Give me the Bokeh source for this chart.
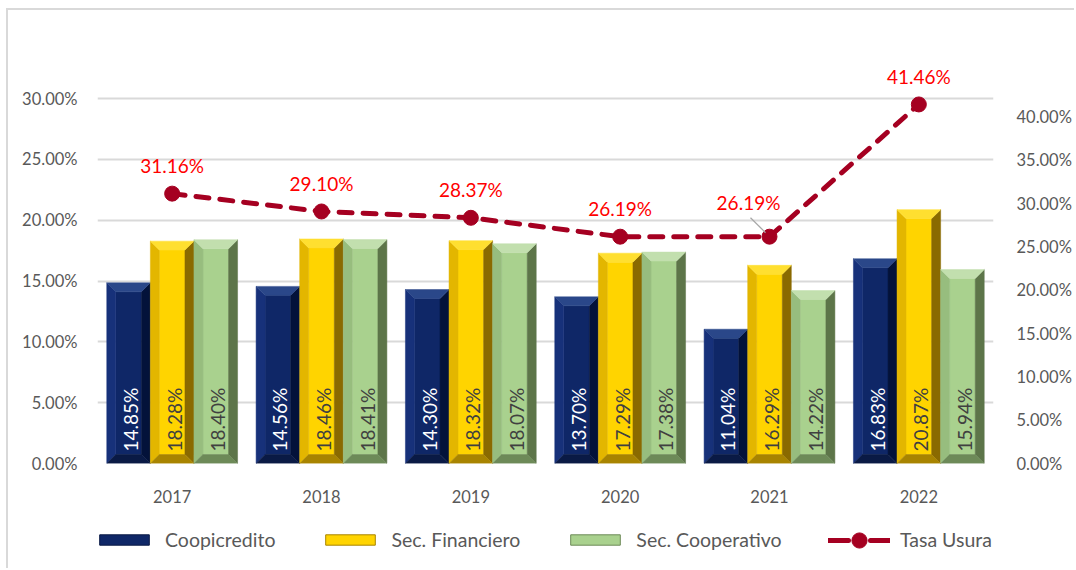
import math
from bokeh.plotting import figure
from bokeh.layouts import column
from bokeh.models import (Range1d, LinearAxis, FixedTicker, NumeralTickFormatter,
                          Legend, LegendItem, ColumnDataSource)
from bokeh.core.properties import value
from bokeh.embed import file_html
from bokeh.resources import INLINE

# ---------------- data ----------------
years = ["2017", "2018", "2019", "2020", "2021", "2022"]
coopicredito = [0.1485, 0.1456, 0.1430, 0.1370, 0.1104, 0.1683]
sec_financiero = [0.1828, 0.1846, 0.1832, 0.1729, 0.1629, 0.2087]
sec_cooperativo = [0.1840, 0.1841, 0.1807, 0.1738, 0.1422, 0.1594]
tasa_usura = [0.3116, 0.2910, 0.2837, 0.2619, 0.2619, 0.4146]
left_ticks = [0.0, 0.05, 0.10, 0.15, 0.20, 0.25, 0.30]
right_ticks = [0.0, 0.05, 0.10, 0.15, 0.20, 0.25, 0.30, 0.35, 0.40]

# ---------------- style ----------------
FONT = "Lato"
GRAY = "#595959"
W, H1, H2 = 1074, 505, 63
ML, MR, MT, MB = 97, 81, 25, 40
frame_w = W - ML - MR
frame_h = H1 - MT - MB
px_per_cat = frame_w / 6.0
left_top = frame_h / 1222.0
right_top = frame_h / 870.0

p = figure(width=W, height=H1, output_backend="svg", toolbar_location=None,
           x_range=Range1d(-0.5, 5.5), y_range=Range1d(0, left_top),
           min_border_left=ML, min_border_right=MR, min_border_top=MT,
           min_border_bottom=MB)
p.frame_align = False
p.outline_line_color = None
p.background_fill_alpha = 0
p.border_fill_alpha = 0
p.extra_y_ranges = {"right": Range1d(0, right_top)}

# axes
p.yaxis.ticker = FixedTicker(ticks=left_ticks)
p.yaxis.formatter = NumeralTickFormatter(format="0.00%")
p.xaxis.ticker = FixedTicker(ticks=list(range(len(years))))
p.xaxis.major_label_overrides = {i: y for i, y in enumerate(years)}
ra = LinearAxis(y_range_name="right", ticker=FixedTicker(ticks=right_ticks),
                formatter=NumeralTickFormatter(format="0.00%"))
p.add_layout(ra, "right")
for ax in (p.xaxis[0], p.yaxis[0], ra):
    ax.axis_line_color = None
    ax.major_tick_line_color = None
    ax.minor_tick_line_color = None
    ax.major_label_text_font = FONT
    ax.major_label_text_color = GRAY
p.xaxis.major_label_text_font_size = "16.5px"
p.yaxis[0].major_label_text_font_size = "16.5px"
ra.major_label_text_font_size = "16.5px"
p.xaxis.major_label_standoff = 20
p.yaxis[0].major_label_standoff = 14
ra.major_label_standoff = 17
p.xgrid.grid_line_color = None
p.ygrid.ticker = FixedTicker(ticks=left_ticks)
p.ygrid.grid_line_color = "#d9d9d9"
p.ygrid.grid_line_width = 2

# ---------------- bevelled bars ----------------
bw = 43.6 / px_per_cat
dx = 9 / px_per_cat
dy = 9 / 1222.0
series = [
    ("Coopicredito", coopicredito, -1,
     dict(face="#0f2767", top="#2a4789", left="#17317a", right="#03123a", bottom="#0a1a45"),
     "white"),
    ("Sec. Financiero", sec_financiero, 0,
     dict(face="#ffd400", top="#ffdf30", left="#e3b600", right="#8a6a00", bottom="#a88400"),
     "#404040"),
    ("Sec. Cooperativo", sec_cooperativo, 1,
     dict(face="#a9d18e", top="#c2dfae", left="#97bd7e", right="#5d7549", bottom="#6d8a58"),
     "#404040"),
]
for name, vals, off, cols, tcol in series:
    parts = {k: ([], []) for k in ("face", "top", "left", "right", "bottom")}
    for i, v in enumerate(vals):
        xc = i + off * bw
        x0, x1 = xc - bw / 2, xc + bw / 2
        y0, y1 = 0.0, v
        parts["face"][0].append([x0 + dx, x1 - dx, x1 - dx, x0 + dx])
        parts["face"][1].append([y0 + dy, y0 + dy, y1 - dy, y1 - dy])
        parts["top"][0].append([x0, x1, x1 - dx, x0 + dx])
        parts["top"][1].append([y1, y1, y1 - dy, y1 - dy])
        parts["left"][0].append([x0, x0 + dx, x0 + dx, x0])
        parts["left"][1].append([y0, y0 + dy, y1 - dy, y1])
        parts["right"][0].append([x1, x1 - dx, x1 - dx, x1])
        parts["right"][1].append([y0, y0 + dy, y1 - dy, y1])
        parts["bottom"][0].append([x0, x1, x1 - dx, x0 + dx])
        parts["bottom"][1].append([y0, y0, y0 + dy, y0 + dy])
    for k in ("face", "left", "right", "bottom", "top"):
        p.patches(parts[k][0], parts[k][1], fill_color=cols[k],
                  line_color=cols[k], line_width=0.5)
    # rotated value labels inside bars
    src = ColumnDataSource(dict(x=[i + off * bw for i in range(len(vals))],
                                y=[0.0] * len(vals),
                                t=["%.2f%%" % (v * 100) for v in vals]))
    p.text(x="x", y="y", text="t", source=src, angle=math.pi / 2,
           text_align="left", text_baseline="middle", y_offset=-12, x_offset=2,
           text_font=value(FONT), text_font_size="19px", text_color=tcol)

# ---------------- Tasa Usura line ----------------
LINE_COL = "#a50021"
xs = list(range(len(years)))
p.line(xs, tasa_usura, y_range_name="right", line_color=LINE_COL,
       line_width=5, line_dash="13 11", line_cap="round")
p.scatter(xs, tasa_usura, y_range_name="right", size=15, marker="circle",
          fill_color=LINE_COL, line_color=LINE_COL)

lab_dx = [0, 0, 0, 0, -21, 0]
lab_dy = [-28, -28, -28, -28, -34, -28]
lsrc = ColumnDataSource(dict(x=xs, y=tasa_usura,
                             t=["%.2f%%" % (v * 100) for v in tasa_usura],
                             xo=lab_dx, yo=lab_dy))
p.text(x="x", y="y", text="t", source=lsrc, x_offset="xo", y_offset="yo",
       y_range_name="right", text_align="center", text_baseline="middle",
       text_font=value(FONT), text_font_size="19px", text_color="#ff0000")
# leader line for the 2021 label
k = 4
p.segment(x0=[xs[k] - 19 / px_per_cat], y0=[tasa_usura[k] + 19 / 870.0],
          x1=[xs[k] - 4 / px_per_cat], y1=[tasa_usura[k] + 4 / 870.0],
          y_range_name="right", line_color="#a6a6a6", line_width=1.2)

# ---------------- legend strip (separate figure below) ----------------
# the same series are plotted here outside the visible ranges, only to feed the legend
q = figure(width=W, height=H2, output_backend="svg", toolbar_location=None,
           x_axis_type=None, y_axis_type=None, min_border=0,
           x_range=Range1d(-20, -19), y_range=Range1d(-20, -19))
q.frame_align = False
q.outline_line_color = None
q.background_fill_alpha = 0
q.border_fill_alpha = 0
q.grid.grid_line_color = None
items = []
for name, vals, off, cols, tcol in series:
    r = q.vbar(x=xs, top=vals, width=0.3, fill_color=cols["face"],
               line_color=cols["bottom"], line_width=1)
    items.append(LegendItem(label=name, renderers=[r]))
rl = q.line(xs, tasa_usura, line_color=LINE_COL, line_width=5, line_dash="20 22",
            line_cap="round")
rs = q.scatter(xs, tasa_usura, size=15, marker="circle", fill_color=LINE_COL,
               line_color=LINE_COL)
common = dict(orientation="horizontal", glyph_width=62, label_standoff=10,
              padding=0, margin=0, border_line_color=None,
              background_fill_alpha=0, label_text_font=FONT,
              label_text_font_size="19.5px", label_text_color=GRAY)
legend_bars = Legend(items=items, location=(93, 17), glyph_height=13, spacing=44,
                     **common)
legend_line = Legend(items=[LegendItem(label="Tasa Usura", renderers=[rl, rs])],
                     location=(828, 9.5), glyph_height=38, **common)
q.add_layout(legend_bars)
q.add_layout(legend_line)

layout = column(p, q, spacing=0)
# chart-area border (top and left edges visible) drawn as CSS background
layout.styles = {"background": "linear-gradient(#d9d9d9,#d9d9d9) 6px 8px / 100% 2px no-repeat, "
                               "linear-gradient(#d9d9d9,#d9d9d9) 6px 8px / 2px 100% no-repeat, white"}

open("out.html", "w").write(file_html(layout, INLINE))
